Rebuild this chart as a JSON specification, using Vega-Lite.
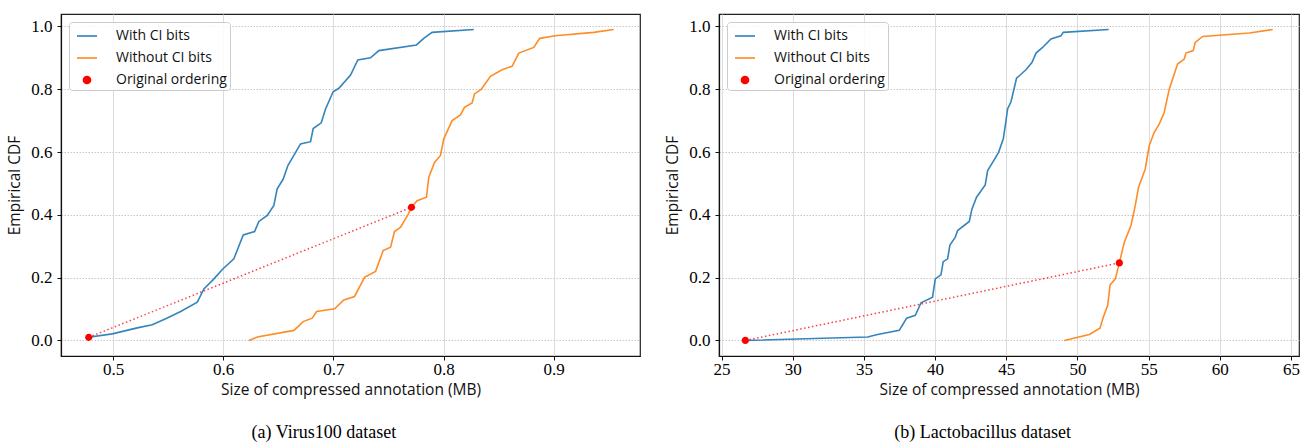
{
  "$schema": "https://vega.github.io/schema/vega-lite/v6.json",
  "padding": {"left": 7, "top": 13, "right": 5, "bottom": 0},
  "spacing": 24,
  "background": "white",
  "config": {
    "font": "Open Sans",
    "view": {"stroke": "#222222", "strokeWidth": 1.2},
    "axis": {
      "domainColor": "#111111", "domainWidth": 1.2, "tickColor": "#111111", "tickSize": 4,
      "labelFont": "Liberation Serif", "labelFontSize": 17, "labelColor": "black", "labelPadding": 1,
      "titleFont": "Open Sans", "titleFontSize": 15.5, "titleFontWeight": "normal", "titleColor": "#111111",
      "grid": true
    },
    "axisX": {"gridColor": "#dcdcdc", "gridWidth": 1, "titlePadding": 5},
    "axisY": {"gridColor": "#c8c8c8", "gridDash": [1.5, 1.5], "gridWidth": 1, "titlePadding": 8, "labelPadding": 5},
    "legend": {
      "orient": "top-left", "offset": 8, "title": null, "padding": 3,
      "fillColor": "rgba(255,255,255,0.85)", "strokeColor": "#cccccc", "cornerRadius": 3,
      "labelFont": "Open Sans", "labelFontSize": 14, "labelColor": "#111111", "labelOffset": 18,
      "rowPadding": 4, "symbolOffset": 4, "symbolSize": 400, "symbolStrokeWidth": 1.5, "symbolOpacity": 1
    },
    "title": {"font": "Liberation Serif", "fontSize": 18, "fontWeight": "normal", "color": "black", "orient": "bottom", "anchor": "middle", "frame": "bounds", "offset": 26}
  },
  "datasets": {
    "virus": [
      {"series": "With CI bits", "x": 0.4767, "y": 0.0},
      {"series": "With CI bits", "x": 0.478, "y": 0.01},
      {"series": "With CI bits", "x": 0.4994, "y": 0.021},
      {"series": "With CI bits", "x": 0.522, "y": 0.04},
      {"series": "With CI bits", "x": 0.5357, "y": 0.05},
      {"series": "With CI bits", "x": 0.5478, "y": 0.069},
      {"series": "With CI bits", "x": 0.5614, "y": 0.092},
      {"series": "With CI bits", "x": 0.5765, "y": 0.122},
      {"series": "With CI bits", "x": 0.5825, "y": 0.164},
      {"series": "With CI bits", "x": 0.5916, "y": 0.196},
      {"series": "With CI bits", "x": 0.5992, "y": 0.226},
      {"series": "With CI bits", "x": 0.6097, "y": 0.26},
      {"series": "With CI bits", "x": 0.6182, "y": 0.336},
      {"series": "With CI bits", "x": 0.6285, "y": 0.347},
      {"series": "With CI bits", "x": 0.6324, "y": 0.379},
      {"series": "With CI bits", "x": 0.64, "y": 0.398},
      {"series": "With CI bits", "x": 0.646, "y": 0.43},
      {"series": "With CI bits", "x": 0.649, "y": 0.483},
      {"series": "With CI bits", "x": 0.6545, "y": 0.514},
      {"series": "With CI bits", "x": 0.6587, "y": 0.557},
      {"series": "With CI bits", "x": 0.6702, "y": 0.626},
      {"series": "With CI bits", "x": 0.6793, "y": 0.633},
      {"series": "With CI bits", "x": 0.6817, "y": 0.675},
      {"series": "With CI bits", "x": 0.689, "y": 0.693},
      {"series": "With CI bits", "x": 0.6929, "y": 0.737},
      {"series": "With CI bits", "x": 0.6998, "y": 0.792},
      {"series": "With CI bits", "x": 0.705, "y": 0.803},
      {"series": "With CI bits", "x": 0.7156, "y": 0.845},
      {"series": "With CI bits", "x": 0.7222, "y": 0.893},
      {"series": "With CI bits", "x": 0.7337, "y": 0.9},
      {"series": "With CI bits", "x": 0.7413, "y": 0.923},
      {"series": "With CI bits", "x": 0.7755, "y": 0.941},
      {"series": "With CI bits", "x": 0.782, "y": 0.962},
      {"series": "With CI bits", "x": 0.7896, "y": 0.981},
      {"series": "With CI bits", "x": 0.8274, "y": 0.99},
      {"series": "Without CI bits", "x": 0.6234, "y": 0.0},
      {"series": "Without CI bits", "x": 0.631, "y": 0.011},
      {"series": "Without CI bits", "x": 0.6642, "y": 0.032},
      {"series": "Without CI bits", "x": 0.6726, "y": 0.06},
      {"series": "Without CI bits", "x": 0.6808, "y": 0.071},
      {"series": "Without CI bits", "x": 0.6848, "y": 0.092},
      {"series": "Without CI bits", "x": 0.7011, "y": 0.101},
      {"series": "Without CI bits", "x": 0.7095, "y": 0.129},
      {"series": "Without CI bits", "x": 0.7192, "y": 0.14},
      {"series": "Without CI bits", "x": 0.7283, "y": 0.201},
      {"series": "Without CI bits", "x": 0.7383, "y": 0.22},
      {"series": "Without CI bits", "x": 0.7452, "y": 0.286},
      {"series": "Without CI bits", "x": 0.7519, "y": 0.297},
      {"series": "Without CI bits", "x": 0.7555, "y": 0.347},
      {"series": "Without CI bits", "x": 0.761, "y": 0.361},
      {"series": "Without CI bits", "x": 0.7676, "y": 0.4},
      {"series": "Without CI bits", "x": 0.7709, "y": 0.424},
      {"series": "Without CI bits", "x": 0.776, "y": 0.445},
      {"series": "Without CI bits", "x": 0.7845, "y": 0.456},
      {"series": "Without CI bits", "x": 0.7866, "y": 0.52},
      {"series": "Without CI bits", "x": 0.7918, "y": 0.567},
      {"series": "Without CI bits", "x": 0.7972, "y": 0.589},
      {"series": "Without CI bits", "x": 0.8002, "y": 0.642},
      {"series": "Without CI bits", "x": 0.8078, "y": 0.7},
      {"series": "Without CI bits", "x": 0.8154, "y": 0.718},
      {"series": "Without CI bits", "x": 0.819, "y": 0.742},
      {"series": "Without CI bits", "x": 0.8259, "y": 0.756},
      {"series": "Without CI bits", "x": 0.8281, "y": 0.785},
      {"series": "Without CI bits", "x": 0.8341, "y": 0.799},
      {"series": "Without CI bits", "x": 0.8426, "y": 0.841},
      {"series": "Without CI bits", "x": 0.8531, "y": 0.862},
      {"series": "Without CI bits", "x": 0.8622, "y": 0.873},
      {"series": "Without CI bits", "x": 0.8683, "y": 0.915},
      {"series": "Without CI bits", "x": 0.8819, "y": 0.933},
      {"series": "Without CI bits", "x": 0.8873, "y": 0.962},
      {"series": "Without CI bits", "x": 0.9015, "y": 0.97},
      {"series": "Without CI bits", "x": 0.9363, "y": 0.981},
      {"series": "Without CI bits", "x": 0.9544, "y": 0.99}
    ],
    "virusOrig": [
      {"series": "Original ordering", "x": 0.478, "y": 0.01},
      {"series": "Original ordering", "x": 0.7709, "y": 0.424}
    ],
    "lacto": [
      {"series": "With CI bits", "x": 26.67, "y": 0.0},
      {"series": "With CI bits", "x": 35.26, "y": 0.011},
      {"series": "With CI bits", "x": 35.96, "y": 0.019},
      {"series": "With CI bits", "x": 37.48, "y": 0.032},
      {"series": "With CI bits", "x": 37.72, "y": 0.05},
      {"series": "With CI bits", "x": 38.0, "y": 0.071},
      {"series": "With CI bits", "x": 38.61, "y": 0.08},
      {"series": "With CI bits", "x": 39.01, "y": 0.12},
      {"series": "With CI bits", "x": 39.82, "y": 0.138},
      {"series": "With CI bits", "x": 40.01, "y": 0.196},
      {"series": "With CI bits", "x": 40.41, "y": 0.209},
      {"series": "With CI bits", "x": 40.57, "y": 0.251},
      {"series": "With CI bits", "x": 40.88, "y": 0.26},
      {"series": "With CI bits", "x": 41.04, "y": 0.304},
      {"series": "With CI bits", "x": 41.42, "y": 0.329},
      {"series": "With CI bits", "x": 41.58, "y": 0.35},
      {"series": "With CI bits", "x": 42.4, "y": 0.379},
      {"series": "With CI bits", "x": 42.59, "y": 0.419},
      {"series": "With CI bits", "x": 42.91, "y": 0.456},
      {"series": "With CI bits", "x": 43.52, "y": 0.495},
      {"series": "With CI bits", "x": 43.69, "y": 0.541},
      {"series": "With CI bits", "x": 44.04, "y": 0.567},
      {"series": "With CI bits", "x": 44.46, "y": 0.599},
      {"series": "With CI bits", "x": 44.79, "y": 0.642},
      {"series": "With CI bits", "x": 44.93, "y": 0.684},
      {"series": "With CI bits", "x": 45.09, "y": 0.737},
      {"series": "With CI bits", "x": 45.33, "y": 0.76},
      {"series": "With CI bits", "x": 45.72, "y": 0.835},
      {"series": "With CI bits", "x": 46.38, "y": 0.862},
      {"series": "With CI bits", "x": 46.8, "y": 0.885},
      {"series": "With CI bits", "x": 47.09, "y": 0.915},
      {"series": "With CI bits", "x": 47.55, "y": 0.933},
      {"series": "With CI bits", "x": 48.14, "y": 0.96},
      {"series": "With CI bits", "x": 48.84, "y": 0.97},
      {"series": "With CI bits", "x": 49.0, "y": 0.981},
      {"series": "With CI bits", "x": 52.19, "y": 0.99},
      {"series": "Without CI bits", "x": 49.07, "y": 0.0},
      {"series": "Without CI bits", "x": 50.83, "y": 0.019},
      {"series": "Without CI bits", "x": 51.58, "y": 0.039},
      {"series": "Without CI bits", "x": 51.81, "y": 0.074},
      {"series": "Without CI bits", "x": 52.12, "y": 0.111},
      {"series": "Without CI bits", "x": 52.29, "y": 0.177},
      {"series": "Without CI bits", "x": 52.66, "y": 0.196},
      {"series": "Without CI bits", "x": 52.94, "y": 0.247},
      {"series": "Without CI bits", "x": 53.29, "y": 0.313},
      {"series": "Without CI bits", "x": 53.76, "y": 0.366},
      {"series": "Without CI bits", "x": 54.06, "y": 0.43},
      {"series": "Without CI bits", "x": 54.29, "y": 0.488},
      {"series": "Without CI bits", "x": 54.76, "y": 0.546},
      {"series": "Without CI bits", "x": 55.04, "y": 0.62},
      {"series": "Without CI bits", "x": 55.39, "y": 0.663},
      {"series": "Without CI bits", "x": 55.74, "y": 0.689},
      {"series": "Without CI bits", "x": 56.09, "y": 0.726},
      {"series": "Without CI bits", "x": 56.45, "y": 0.801},
      {"series": "Without CI bits", "x": 57.03, "y": 0.88},
      {"series": "Without CI bits", "x": 57.5, "y": 0.896},
      {"series": "Without CI bits", "x": 57.62, "y": 0.915},
      {"series": "Without CI bits", "x": 58.13, "y": 0.923},
      {"series": "Without CI bits", "x": 58.27, "y": 0.949},
      {"series": "Without CI bits", "x": 58.79, "y": 0.968},
      {"series": "Without CI bits", "x": 62.07, "y": 0.979},
      {"series": "Without CI bits", "x": 63.71, "y": 0.99}
    ],
    "lactoOrig": [
      {"series": "Original ordering", "x": 26.67, "y": 0.0},
      {"series": "Original ordering", "x": 52.94, "y": 0.247}
    ]
  },
  "resolve": {"scale": {"color": "independent", "shape": "independent", "x": "independent", "y": "independent"}, "legend": {"color": "independent", "shape": "independent"}},
  "hconcat": [
    {
      "width": 579, "height": 342,
      "title": {"text": "(a) Virus100 dataset"},
      "encoding": {
        "x": {"field": "x", "type": "quantitative", "scale": {"domain": [0.4528, 0.9783], "nice": false, "zero": false},
              "axis": {"values": [0.5, 0.6, 0.7, 0.8, 0.9], "format": ".1f", "title": "Size of compressed annotation (MB)"}},
        "y": {"field": "y", "type": "quantitative", "scale": {"domain": [-0.0495, 1.0395], "nice": false, "zero": false},
              "axis": {"values": [0, 0.2, 0.4, 0.6, 0.8, 1.0], "format": ".1f", "title": "Empirical CDF"}}
      },
      "layer": [
        {
          "data": {"name": "virus"},
          "mark": {"type": "line", "strokeWidth": 1.6, "opacity": 0.9},
          "encoding": {
            "color": {"field": "series", "type": "nominal",
              "scale": {"domain": ["With CI bits", "Without CI bits", "Original ordering"], "range": ["#1f77b4", "#ff7f0e", "#ff0000"]}}
          }
        },
        {
          "data": {"name": "virusOrig"},
          "mark": {"type": "line", "color": "#ff0000", "strokeDash": [1.5, 2.5], "strokeWidth": 1.5, "opacity": 0.75},
          "encoding": {}
        },
        {
          "data": {"name": "virusOrig"},
          "mark": {"type": "point", "filled": true, "opacity": 1, "size": 400},
          "encoding": {
            "color": {"field": "series", "type": "nominal",
              "scale": {"domain": ["With CI bits", "Without CI bits", "Original ordering"], "range": ["#1f77b4", "#ff7f0e", "#ff0000"]}},
            "shape": {"field": "series", "type": "nominal",
              "scale": {"domain": ["With CI bits", "Without CI bits", "Original ordering"], "range": ["stroke", "stroke", "M-0.36,0A0.36,0.36,0,1,0,0.36,0A0.36,0.36,0,1,0,-0.36,0Z"]}}
          }
        }
      ]
    },
    {
      "width": 580, "height": 342,
      "title": {"text": "(b) Lactobacillus dataset"},
      "encoding": {
        "x": {"field": "x", "type": "quantitative", "scale": {"domain": [24.82, 65.56], "nice": false, "zero": false},
              "axis": {"values": [25, 30, 35, 40, 45, 50, 55, 60, 65], "format": "d", "title": "Size of compressed annotation (MB)"}},
        "y": {"field": "y", "type": "quantitative", "scale": {"domain": [-0.0495, 1.0395], "nice": false, "zero": false},
              "axis": {"values": [0, 0.2, 0.4, 0.6, 0.8, 1.0], "format": ".1f", "title": "Empirical CDF"}}
      },
      "layer": [
        {
          "data": {"name": "lacto"},
          "mark": {"type": "line", "strokeWidth": 1.6, "opacity": 0.9},
          "encoding": {
            "color": {"field": "series", "type": "nominal",
              "scale": {"domain": ["With CI bits", "Without CI bits", "Original ordering"], "range": ["#1f77b4", "#ff7f0e", "#ff0000"]}}
          }
        },
        {
          "data": {"name": "lactoOrig"},
          "mark": {"type": "line", "color": "#ff0000", "strokeDash": [1.5, 2.5], "strokeWidth": 1.5, "opacity": 0.75},
          "encoding": {}
        },
        {
          "data": {"name": "lactoOrig"},
          "mark": {"type": "point", "filled": true, "opacity": 1, "size": 400},
          "encoding": {
            "color": {"field": "series", "type": "nominal",
              "scale": {"domain": ["With CI bits", "Without CI bits", "Original ordering"], "range": ["#1f77b4", "#ff7f0e", "#ff0000"]}},
            "shape": {"field": "series", "type": "nominal",
              "scale": {"domain": ["With CI bits", "Without CI bits", "Original ordering"], "range": ["stroke", "stroke", "M-0.36,0A0.36,0.36,0,1,0,0.36,0A0.36,0.36,0,1,0,-0.36,0Z"]}}
          }
        }
      ]
    }
  ]
}
